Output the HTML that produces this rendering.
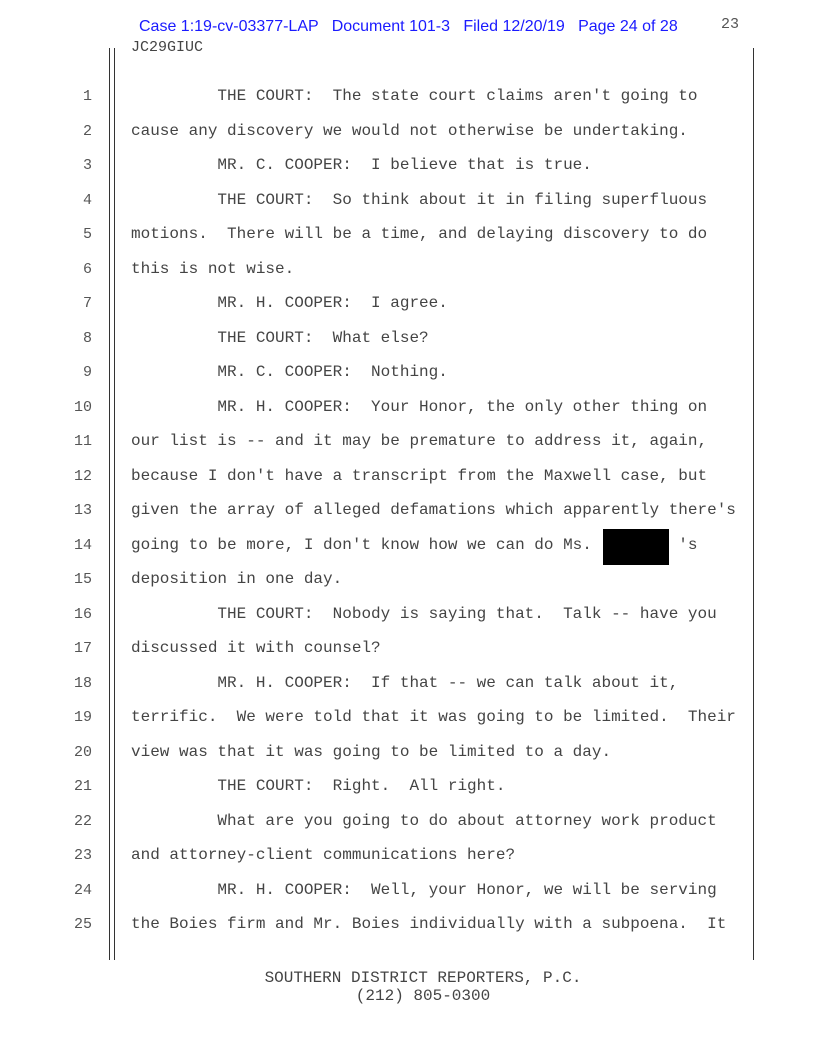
<!DOCTYPE html>
<html><head><meta charset="utf-8"><style>
body{margin:0;background:#fff;}
.p{position:relative;width:816px;height:1056px;overflow:hidden;background:#fff;font-family:"Liberation Mono",monospace;color:#444;}
.hdr{position:absolute;top:18px;left:139px;font-family:"Liberation Sans",sans-serif;font-size:16px;color:#1a1aff;white-space:pre;}
.pg{position:absolute;top:16px;left:721px;font-size:15px;color:#555;}
.v{position:absolute;width:1px;background:#333;}
.ln{position:absolute;font-size:15px;white-space:pre;}
.num{position:absolute;width:30px;text-align:right;left:62px;font-size:15px;color:#555;}
.t{position:absolute;left:131px;font-size:16px;white-space:pre;}
.ft{position:absolute;left:0;width:846px;text-align:center;font-size:16px;white-space:pre;}
</style></head><body><div class="p">
<div class="hdr">Case 1:19-cv-03377-LAP   Document 101-3   Filed 12/20/19   Page 24 of 28</div>
<div class="pg">23</div>
<div class="ln" style="top:39px;left:131px;">JC29GIUC</div>
<div class="v" style="left:109px;top:48px;height:912px"></div>
<div class="v" style="left:114px;top:48px;height:912px"></div>
<div class="v" style="left:753px;top:48px;height:912px"></div>
<div style="position:absolute;left:603px;top:529px;width:66px;height:36px;background:#000"></div>
<div class="num" style="top:88px">1</div><div class="t" style="top:87px">         THE COURT:  The state court claims aren't going to</div>
<div class="num" style="top:123px">2</div><div class="t" style="top:122px">cause any discovery we would not otherwise be undertaking.</div>
<div class="num" style="top:157px">3</div><div class="t" style="top:156px">         MR. C. COOPER:  I believe that is true.</div>
<div class="num" style="top:192px">4</div><div class="t" style="top:191px">         THE COURT:  So think about it in filing superfluous</div>
<div class="num" style="top:226px">5</div><div class="t" style="top:225px">motions.  There will be a time, and delaying discovery to do</div>
<div class="num" style="top:261px">6</div><div class="t" style="top:260px">this is not wise.</div>
<div class="num" style="top:295px">7</div><div class="t" style="top:294px">         MR. H. COOPER:  I agree.</div>
<div class="num" style="top:330px">8</div><div class="t" style="top:329px">         THE COURT:  What else?</div>
<div class="num" style="top:364px">9</div><div class="t" style="top:363px">         MR. C. COOPER:  Nothing.</div>
<div class="num" style="top:399px">10</div><div class="t" style="top:398px">         MR. H. COOPER:  Your Honor, the only other thing on</div>
<div class="num" style="top:433px">11</div><div class="t" style="top:432px">our list is -- and it may be premature to address it, again,</div>
<div class="num" style="top:468px">12</div><div class="t" style="top:467px">because I don't have a transcript from the Maxwell case, but</div>
<div class="num" style="top:502px">13</div><div class="t" style="top:501px">given the array of alleged defamations which apparently there's</div>
<div class="num" style="top:537px">14</div><div class="t" style="top:536px">going to be more, I don't know how we can do Ms.         's</div>
<div class="num" style="top:571px">15</div><div class="t" style="top:570px">deposition in one day.</div>
<div class="num" style="top:606px">16</div><div class="t" style="top:605px">         THE COURT:  Nobody is saying that.  Talk -- have you</div>
<div class="num" style="top:640px">17</div><div class="t" style="top:639px">discussed it with counsel?</div>
<div class="num" style="top:675px">18</div><div class="t" style="top:674px">         MR. H. COOPER:  If that -- we can talk about it,</div>
<div class="num" style="top:709px">19</div><div class="t" style="top:708px">terrific.  We were told that it was going to be limited.  Their</div>
<div class="num" style="top:744px">20</div><div class="t" style="top:743px">view was that it was going to be limited to a day.</div>
<div class="num" style="top:778px">21</div><div class="t" style="top:777px">         THE COURT:  Right.  All right.</div>
<div class="num" style="top:813px">22</div><div class="t" style="top:812px">         What are you going to do about attorney work product</div>
<div class="num" style="top:847px">23</div><div class="t" style="top:846px">and attorney-client communications here?</div>
<div class="num" style="top:882px">24</div><div class="t" style="top:881px">         MR. H. COOPER:  Well, your Honor, we will be serving</div>
<div class="num" style="top:916px">25</div><div class="t" style="top:915px">the Boies firm and Mr. Boies individually with a subpoena.  It</div>
<div class="ft" style="top:969px">SOUTHERN DISTRICT REPORTERS, P.C.</div>
<div class="ft" style="top:987px">(212) 805-0300</div>
</div></body></html>
